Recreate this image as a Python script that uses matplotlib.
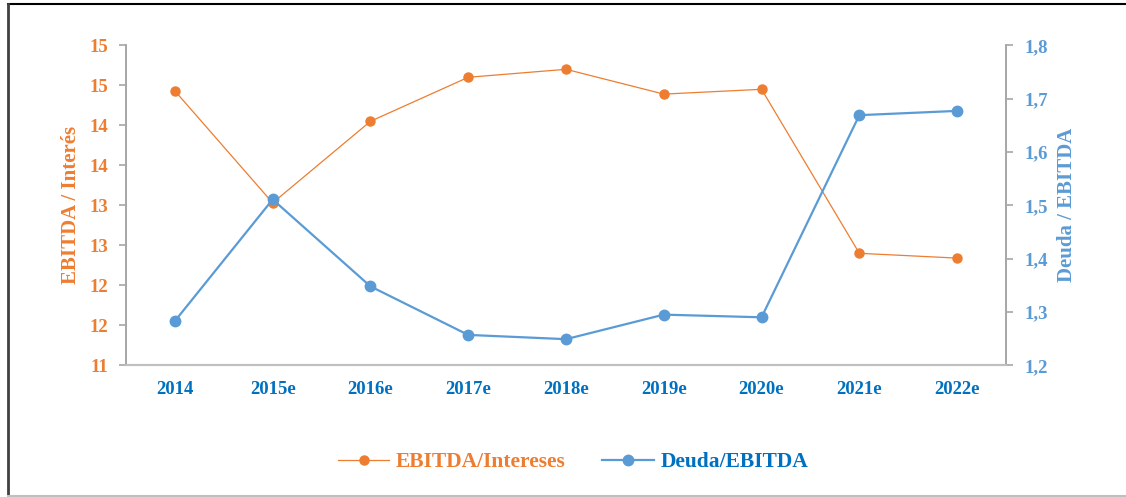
import math
import matplotlib
matplotlib.use("Agg")
import matplotlib.pyplot as plt
from matplotlib.ticker import FuncFormatter, MultipleLocator
from matplotlib.lines import Line2D

years = ["2014", "2015e", "2016e", "2017e", "2018e", "2019e", "2020e", "2021e", "2022e"]
ebitda_intereses = [14.43, 13.03, 14.05, 14.60, 14.70, 14.39, 14.45, 12.40, 12.34]
deuda_ebitda = [1.283, 1.511, 1.348, 1.257, 1.249, 1.295, 1.290, 1.669, 1.677]

ORANGE = "#ED7D31"
BLUE = "#5B9BD5"
DARK_BLUE = "#0070C0"
GRAY = "#A6A6A6"

plt.rcParams["font.family"] = ["Liberation Serif", "DejaVu Serif"]
plt.rcParams["font.weight"] = "bold"

W, H = 1126, 497
fig = plt.figure(figsize=(W / 100, H / 100), dpi=100)
ax = fig.add_axes([126 / W, 1 - 365.3 / H, 880 / W, 320 / H])
ax2 = ax.twinx()

x = list(range(len(years)))
ax.plot(x, ebitda_intereses, color=ORANGE, lw=0.9, marker="o", ms=6.5,
        label="EBITDA/Intereses")
ax2.plot(x, deuda_ebitda, color=BLUE, lw=1.6, marker="o", ms=7.5,
         label="Deuda/EBITDA")

ax.set_xlim(-0.5, len(years) - 0.5)
ax.set_ylim(11, 15)
ax2.set_ylim(1.2, 1.8)
ax.yaxis.set_major_locator(MultipleLocator(0.5))
ax2.yaxis.set_major_locator(MultipleLocator(0.1))
# Excel-style rounding of the 0.5 steps to whole numbers
ax.yaxis.set_major_formatter(FuncFormatter(lambda v, p: str(int(math.floor(v + 0.5)))))
ax2.yaxis.set_major_formatter(FuncFormatter(lambda v, p: f"{v:.1f}".replace(".", ",")))

ax.set_xticks(x)
ax.set_xticklabels(years, color=DARK_BLUE, fontsize=13.5, fontweight="bold")
ax.tick_params(axis="x", length=0, pad=11)
ax.tick_params(axis="y", colors=GRAY, labelcolor=ORANGE, labelsize=13.5, length=5, width=1.2, pad=8)
ax2.tick_params(axis="y", colors=GRAY, labelcolor=BLUE, labelsize=13.5, length=5, width=1.2, pad=8)

for a in (ax, ax2):
    a.spines["top"].set_visible(False)
    for s in ("left", "right"):
        a.spines[s].set_color(GRAY)
        a.spines[s].set_linewidth(1.2)
    a.spines["bottom"].set_color("#BFBFBF")
    a.spines["bottom"].set_linewidth(1.5)

ax.set_ylabel("EBITDA / Interés", color=ORANGE, fontsize=15, fontweight="bold", labelpad=6)
ax2.set_ylabel("Deuda / EBITDA", color=BLUE, fontsize=15, fontweight="bold", labelpad=7)

handles = [
    Line2D([], [], color=ORANGE, lw=0.9, marker="o", ms=6.5),
    Line2D([], [], color=BLUE, lw=1.6, marker="o", ms=7.5),
]
leg = fig.legend(handles, ["EBITDA/Intereses", "Deuda/EBITDA"], loc="center",
                 bbox_to_anchor=(573 / W, 1 - 462 / H), ncol=2, frameon=False,
                 prop={"size": 15.5, "weight": "bold"}, handlelength=2.4,
                 columnspacing=1.7, handletextpad=0.3)
for t, c in zip(leg.get_texts(), [ORANGE, DARK_BLUE]):
    t.set_color(c)

# outer frame
fig.add_artist(Line2D([8 / W, 1], [1 - 4 / H, 1 - 4 / H], color="black", lw=1.5, transform=fig.transFigure))
fig.add_artist(Line2D([8 / W, 8 / W], [1 - 4 / H, 1 - 496 / H], color="#404040", lw=2, transform=fig.transFigure))
fig.add_artist(Line2D([8 / W, 1], [1 - 496 / H, 1 - 496 / H], color="#BFBFBF", lw=1.5, transform=fig.transFigure))

fig.savefig("out.png", dpi=100)
